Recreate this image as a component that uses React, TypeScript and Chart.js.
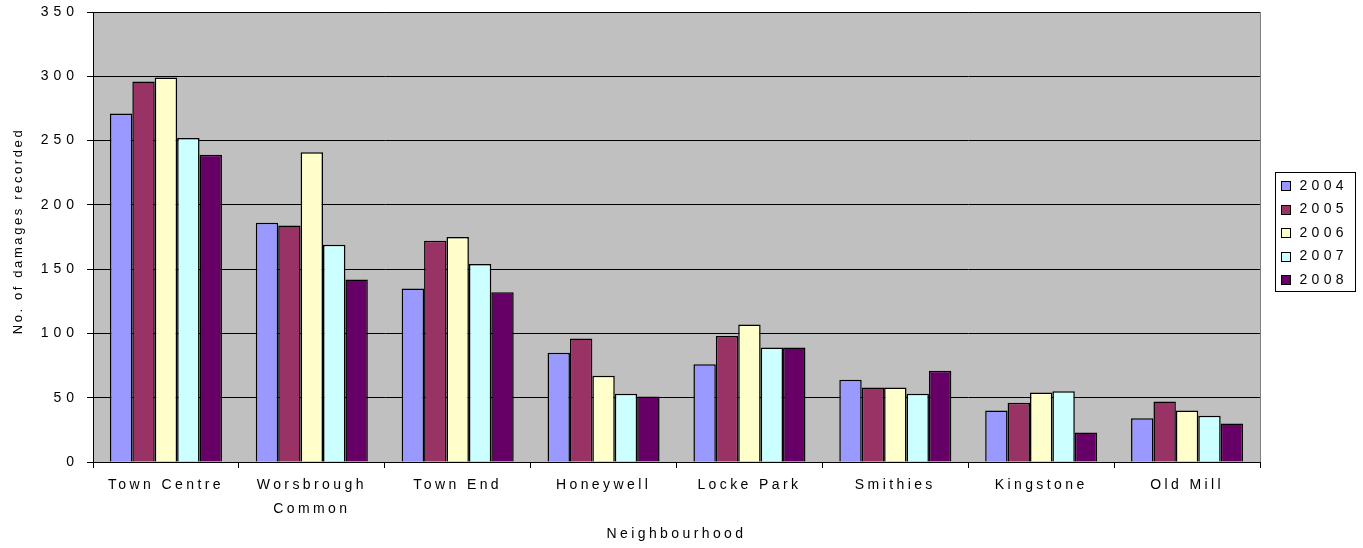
import React, { useEffect, useRef } from "react";
import { Chart, registerables } from "chart.js";

Chart.register(...registerables);

const categories: (string | string[])[] = [
  "Town Centre",
  ["Worsbrough", "Common"],
  "Town End",
  "Honeywell",
  "Locke Park",
  "Smithies",
  "Kingstone",
  "Old Mill",
];

const seriesNames = ["2004", "2005", "2006", "2007", "2008"];
const values2004 = [271, 186, 135, 85, 76, 64, 40, 34];
const values2005 = [296, 184, 172, 96, 98, 58, 46, 47];
const values2006 = [299, 241, 175, 67, 107, 58, 54, 40];
const values2007 = [252, 169, 154, 53, 89, 53, 55, 36];
const values2008 = [239, 142, 132, 51, 89, 71, 23, 30];
const seriesColors = ["#9999FF", "#993366", "#FFFFCC", "#CCFFFF", "#660066"];

const yTitle = "No. of damages recorded";
const xTitle = "Neighbourhood";

const FONT = "Arial, 'Liberation Sans', sans-serif";

function patch(scale: any, method: string, spacing: string, dy = 0) {
  const key = "__patched_" + method;
  if (!scale || scale[key]) return;
  const orig = scale[method];
  scale[method] = function (...args: any[]) {
    const ctx = this.ctx as any;
    ctx.save();
    ctx.letterSpacing = spacing;
    if (dy) ctx.translate(0, dy);
    orig.apply(this, args);
    ctx.restore();
  };
  scale[key] = true;
}

const stylePlugin = {
  id: "excelStyle",
  beforeDraw(chart: any) {
    const { ctx, chartArea } = chart;
    const { left, top, right, bottom } = chartArea;
    ctx.save();
    ctx.fillStyle = "#C0C0C0";
    ctx.fillRect(left, top, right - left, bottom - top);
    ctx.strokeStyle = "#808080";
    ctx.lineWidth = 1;
    ctx.strokeRect(Math.round(left) + 0.5, Math.round(top) + 0.5, Math.round(right - left), Math.round(bottom - top));
    ctx.restore();
    patch(chart.scales.y, "drawLabels", "5px");
    patch(chart.scales.y, "drawTitle", "2.6px", -6);
    patch(chart.scales.x, "drawLabels", "3.4px");
    patch(chart.scales.x, "drawTitle", "3.4px");
  },
  afterDraw(chart: any) {
    const { ctx, chartArea } = chart;
    const boxW = 80;
    const rowH = 23.5;
    const n = chart.data.datasets.length;
    const boxH = 119;
    const left = Math.round(chartArea.right + 15) + 0.5;
    const top = Math.round((chartArea.top + chartArea.bottom) / 2 - boxH / 2 - 6) + 0.5;
    ctx.save();
    ctx.fillStyle = "#FFFFFF";
    ctx.fillRect(left, top, boxW, boxH);
    ctx.strokeStyle = "#000";
    ctx.lineWidth = 1;
    ctx.strokeRect(left, top, boxW, boxH);
    ctx.font = `14px ${FONT}`;
    (ctx as any).letterSpacing = "4.3px";
    ctx.textBaseline = "middle";
    ctx.textAlign = "left";
    for (let i = 0; i < n; i++) {
      const ds = chart.data.datasets[i];
      const cy = top + 13 + i * rowH;
      const sy = Math.round(cy - 4.5);
      ctx.fillStyle = ds.backgroundColor;
      ctx.fillRect(left + 6, sy, 9, 9);
      ctx.strokeStyle = "#000";
      ctx.strokeRect(left + 6, sy + 0.5, 9, 9);
      ctx.fillStyle = "#000";
      ctx.fillText(ds.label, left + 24, cy + 0.5);
    }
    ctx.restore();
  },
};

export default function App() {
  const canvasRef = useRef<HTMLCanvasElement | null>(null);

  useEffect(() => {
    const canvas = canvasRef.current;
    if (!canvas) return;
    const allValues = [values2004, values2005, values2006, values2007, values2008];
    const chart = new Chart(canvas, {
      type: "bar",
      data: {
        labels: categories,
        datasets: seriesNames.map((name, i) => ({
          label: name,
          data: allValues[i],
          backgroundColor: seriesColors[i],
          borderColor: "#000000",
          borderWidth: 1.5,
          categoryPercentage: 0.768,
          barPercentage: 1.0,
        })),
      },
      options: {
        responsive: false,
        animation: false,
        devicePixelRatio: 1,
        layout: { padding: { top: 12, right: 103, bottom: 0, left: 0 } },
        plugins: {
          legend: { display: false },
          tooltip: { enabled: false },
          title: { display: false },
        },
        scales: {
          x: {
            type: "category",
            offset: true,
            grid: {
              display: true,
              offset: true,
              drawOnChartArea: false,
              drawTicks: true,
              tickLength: 6,
              color: "#000",
            },
            border: { display: true, color: "#000", width: 1 },
            ticks: {
              color: "#000",
              font: { family: FONT, size: 14, lineHeight: 1.7 },
              padding: 5,
              maxRotation: 0,
              minRotation: 0,
              autoSkip: false,
            },
            title: {
              display: true,
              text: xTitle,
              color: "#000",
              font: { family: FONT, size: 14, lineHeight: 1.2 },
              padding: { top: 0, bottom: 5 },
            },
            afterFit: (scale: any) => {
              scale.height = 86;
            },
          },
          y: {
            min: 0,
            max: 350,
            grid: {
              display: true,
              color: "#000",
              lineWidth: 1,
              drawTicks: true,
              tickLength: 6,
            },
            border: { display: true, color: "#000", width: 1 },
            ticks: {
              stepSize: 50,
              color: "#000",
              font: { family: FONT, size: 14 },
              padding: 8,
            },
            title: {
              display: true,
              text: yTitle,
              color: "#000",
              font: { family: FONT, size: 13, lineHeight: 1.2 },
              padding: { top: 11, bottom: 0 },
            },
            afterFit: (scale: any) => {
              scale.width = 93;
              scale.paddingTop = 0;
              scale.paddingBottom = 0;
            },
          },
        },
      },
      plugins: [stylePlugin],
    });
    return () => chart.destroy();
  }, []);

  return (
    <div style={{ position: "fixed", left: 0, top: 0, width: 1363, height: 548, background: "#fff" }}>
      <canvas ref={canvasRef} width={1363} height={548} style={{ width: 1363, height: 548, display: "block" }} />
    </div>
  );
}
